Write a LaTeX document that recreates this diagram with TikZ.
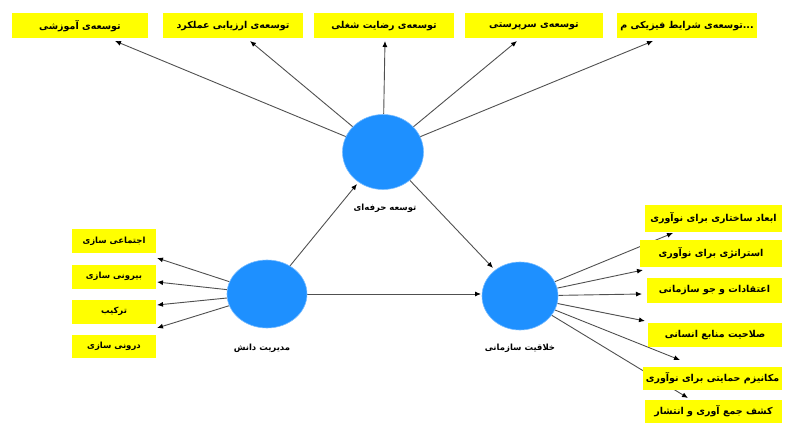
\documentclass[tikz,border=0pt]{standalone}
\usepackage{fontspec}
\setmainfont{DejaVu Sans}
\newfontfamily\arabicfont[Script=Arabic]{DejaVu Sans}
\TeXXeTstate=1
\usetikzlibrary{shapes.geometric,arrows.meta,backgrounds}
\definecolor{boxyellow}{RGB}{255,255,0}
\definecolor{lvblue}{RGB}{30,144,255}
\definecolor{linegray}{RGB}{80,80,80}
\newcommand{\rl}[1]{{\arabicfont\bfseries\beginR #1\endR}}
\tikzset{
  ind/.style={fill=boxyellow, draw=none, inner sep=0pt, font=\fontsize{9.5}{11}\selectfont},
  indsmall/.style={ind, font=\fontsize{8.5}{10}\selectfont},
  lv/.style={ellipse, fill=lvblue, draw=lvblue!60!white, line width=0.6pt, inner sep=0pt},
  lvlabel/.style={font=\fontsize{8.5}{10}\selectfont},
  conn/.style={draw=linegray, line width=0.9pt, -{Latex[length=6pt,width=5pt,fill=black,color=black]}},
}
\begin{document}
\begin{tikzpicture}[x=1pt,y=-1pt]
\useasboundingbox (0,0) rectangle (785,428);
% latent variables
\node[lv, minimum width=81pt, minimum height=75pt] (P) at (383,152) {};
\node[lv, minimum width=80pt, minimum height=68pt] (K) at (267,294) {};
\node[lv, minimum width=76pt, minimum height=68pt] (C) at (520,296) {};
\node[lvlabel] (Plab) at (385,208) {\rl{توسعه حرفه‌ای}};
\node[lvlabel] (Klab) at (262,348) {\rl{مدیریت دانش}};
\node[lvlabel] (Clab) at (520,348) {\rl{خلاقیت سازمانی}};
% top indicators
\node[ind, minimum width=136pt, minimum height=25pt] (t1) at (80,26) {\rl{توسعه‌ی آموزشی}};
\node[ind, minimum width=140pt, minimum height=25pt] (t2) at (233,26) {\rl{توسعه‌ی ارزیابی عملکرد}};
\node[ind, minimum width=140pt, minimum height=25pt] (t3) at (384,26) {\rl{توسعه‌ی رضایت شغلی}};
\node[ind, minimum width=138pt, minimum height=25pt] (t4) at (534,26) {\rl{توسعه‌ی سرپرستی}};
\node[ind, minimum width=140pt, minimum height=25pt] (t5) at (687,26) {{\arabicfont\bfseries\beginR توسعه‌ی شرایط فیزیکی م\endR...}};
% left indicators
\node[indsmall, minimum width=84pt, minimum height=24pt] (l1) at (114,241) {\rl{اجتماعی سازی}};
\node[indsmall, minimum width=84pt, minimum height=24pt] (l2) at (114,276.5) {\rl{بیرونی سازی}};
\node[indsmall, minimum width=84pt, minimum height=24pt] (l3) at (114,311.5) {\rl{ترکیب}};
\node[indsmall, minimum width=84pt, minimum height=23pt] (l4) at (114,346) {\rl{درونی سازی}};
% right indicators
\node[ind, minimum width=137pt, minimum height=27pt] (r1) at (713.5,218.5) {\rl{ابعاد ساختاری برای نوآوری}};
\node[ind, minimum width=142pt, minimum height=27pt] (r2) at (711,253.5) {\rl{استراتژی برای نوآوری}};
\node[ind, minimum width=135pt, minimum height=25pt] (r3) at (714.5,290.5) {\rl{اعتقادات و جو سازمانی}};
\node[ind, minimum width=134pt, minimum height=24pt] (r4) at (715,335) {\rl{صلاحیت منابع انسانی}};
\node[ind, minimum width=139pt, minimum height=23pt] (r5) at (712.5,378.5) {\rl{مکانیزم حمایتی برای نوآوری}};
\node[ind, minimum width=137pt, minimum height=23pt] (r6) at (713.5,411.5) {\rl{کشف جمع آوری و انتشار}};
% arrow end points
\coordinate (a1) at (115,41);
\coordinate (a2) at (250,41);
\coordinate (a3) at (385,41);
\coordinate (a4) at (517,41);
\coordinate (a5) at (653,41);
\coordinate (b1) at (157,258);
\coordinate (b2) at (157,282);
\coordinate (b3) at (157,305);
\coordinate (b4) at (157,328);
\coordinate (c1) at (673,233);
\coordinate (c2) at (643,270);
\coordinate (c3) at (642,294);
\coordinate (c4) at (645,321);
\coordinate (c5) at (680,360);
\coordinate (c6) at (688,398);
\coordinate (kp) at (357,184);
\coordinate (pc) at (493,268);
\coordinate (kc) at (481,294);
\begin{scope}[on background layer]
\foreach \e in {a1,a2,a3,a4,a5} \draw[conn] (P) -- (\e);
\foreach \e in {b1,b2,b3,b4} \draw[conn] (K) -- (\e);
\foreach \e in {c1,c2,c3,c4,c5,c6} \draw[conn] (C) -- (\e);
\draw[conn] (K) -- (kp);
\draw[conn] (P) -- (pc);
\draw[conn] (K) -- (kc);
\end{scope}
\end{tikzpicture}
\end{document}
